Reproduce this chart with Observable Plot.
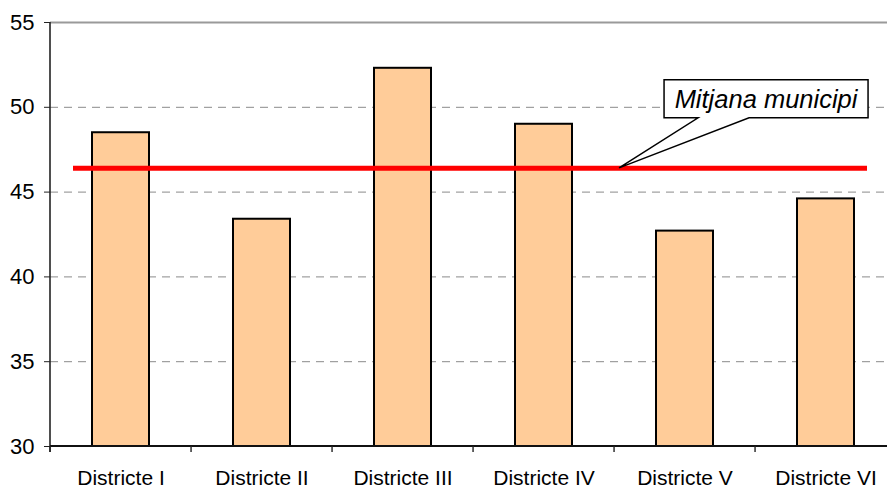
<!DOCTYPE html>
<html>
<head>
<meta charset="utf-8">
<script src="https://cdn.jsdelivr.net/npm/d3@7"></script>
<script src="https://cdn.jsdelivr.net/npm/@observablehq/plot@0.6"></script>
<style>
  html, body { margin: 0; padding: 0; background: #fff; overflow: hidden; }
  #chart svg { display: block; }
</style>
</head>
<body>
<div id="chart"></div>
<script>
const districts = ["Districte I", "Districte II", "Districte III", "Districte IV", "Districte V", "Districte VI"];
const values = [48.5, 43.4, 52.3, 49.0, 42.7, 44.6];
const meanValue = 46.4;
const meanLabel = "Mitjana municipi";
const yTicks = [30, 35, 40, 45, 50, 55];
const gridTicks = [35, 40, 45, 50];
const yMin = 30, yMax = 55;

const data = districts.map((d, i) => ({district: d, value: values[i]}));

const font = "'Liberation Sans', Arial, sans-serif";

// custom mark: category boundary ticks, axis lines and the callout
function decorations(index, scales, values_, dims) {
  const x = scales.x, y = scales.y;
  const step = x(districts[1]) - x(districts[0]);
  const bw = step * (1 - 0.595);
  const boundaries = districts.map(d => x(d) + bw / 2 - step / 2);
  boundaries.push(boundaries[boundaries.length - 1] + step);
  const g = d3.create("svg:g");
  const yb = y(yMin), yt = y(yMax);
  const left = dims.marginLeft;
  g.append("line").attr("x1", left).attr("x2", left).attr("y1", yt).attr("y2", yb + 6)
    .attr("stroke", "#222").attr("stroke-width", 1.6);
  g.append("line").attr("x1", left).attr("x2", dims.width).attr("y1", yb).attr("y2", yb)
    .attr("stroke", "#111").attr("stroke-width", 2);
  for (const bx of boundaries) {
    g.append("line").attr("x1", bx).attr("x2", bx).attr("y1", yb).attr("y2", yb + 6)
      .attr("stroke", "#222").attr("stroke-width", 1.4);
  }
  const tx = boundaries[4] + 5, ty = y(meanValue);
  const p = d3.path();
  p.moveTo(tx + 45, ty - 88);
  p.lineTo(tx + 249, ty - 88);
  p.lineTo(tx + 249, ty - 50);
  p.lineTo(tx + 130, ty - 50);
  p.lineTo(tx, ty);
  p.lineTo(tx + 79, ty - 50);
  p.lineTo(tx + 45, ty - 50);
  p.closePath();
  g.append("path").attr("d", p.toString()).attr("fill", "#fff")
    .attr("stroke", "#000").attr("stroke-width", 1.5).attr("stroke-linejoin", "miter");
  g.append("text").attr("x", tx + 147).attr("y", ty - 69).attr("dy", "0.35em")
    .attr("text-anchor", "middle").attr("font-style", "italic")
    .attr("font-size", 25.5).attr("font-family", font).attr("fill", "#000")
    .text(meanLabel);
  return g.node();
}

const chart = Plot.plot({
  width: 887,
  height: 488,
  marginLeft: 50,
  marginRight: -9,
  marginTop: 22,
  marginBottom: 42,
  style: {fontFamily: font, background: "#fff", color: "#000"},
  x: {domain: districts, paddingInner: 0.595, paddingOuter: 0.2975, label: null},
  y: {domain: [yMin, yMax], label: null},
  marks: [
    Plot.ruleY(gridTicks, {stroke: "#8a8a8a", strokeWidth: 1, strokeDasharray: "8,6"}),
    Plot.ruleY([yMax], {stroke: "#9a9a9a", strokeWidth: 2}),
    Plot.barY(data, {x: "district", y1: yMin, y2: "value", fill: "#FFCC99", stroke: "#000", strokeWidth: 2}),
    Plot.ruleY([meanValue], {stroke: "#FF0000", strokeWidth: 5, insetLeft: 23, insetRight: 29}),
    Plot.axisY({ticks: yTicks, tickSize: 6, tickPadding: 10, tickFormat: d => String(d), fontSize: 22, stroke: "#222", label: null}),
    Plot.axisX({tickSize: 0, tickPadding: 24, fontSize: 21, label: null}),
    decorations
  ]
});
document.getElementById("chart").appendChild(chart);
</script>
</body>
</html>
